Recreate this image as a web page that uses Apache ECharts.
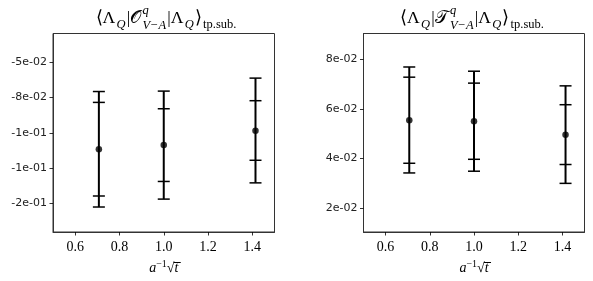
<!DOCTYPE html>
<html>
<head>
<meta charset="utf-8">
<script src="https://cdn.jsdelivr.net/npm/echarts@6/dist/echarts.min.js"></script>
<style>html,body{margin:0;padding:0;background:#fff;}#c{width:593px;height:281px;}</style>
</head>
<body>
<div id="c"></div>
<script>
// ---- data ----
const xs = [0.7071, 1.0, 1.4142];
const xTicks = [0.6, 0.8, 1.0, 1.2, 1.4];
const xTickLabels = ['0.6', '0.8', '1.0', '1.2', '1.4'];

const leftMean    = [-0.1117, -0.1087, -0.0986];
const leftInnerLo = [-0.1448, -0.1345, -0.1195];
const leftInnerHi = [-0.0785, -0.0830, -0.0773];
const leftOuterLo = [-0.1526, -0.1470, -0.1355];
const leftOuterHi = [-0.0708, -0.0705, -0.0613];
const leftTicks = [-0.05, -0.075, -0.1, -0.125, -0.15];
const leftTickLabels = ['-5e-02', '-8e-02', '-1e-01', '-1e-01', '-2e-01'];

const rightMean    = [0.0554, 0.0550, 0.0496];
const rightInnerLo = [0.0381, 0.0397, 0.0376];
const rightInnerHi = [0.0728, 0.0704, 0.0617];
const rightOuterLo = [0.0342, 0.0349, 0.0300];
const rightOuterHi = [0.0769, 0.0752, 0.0693];
const rightTicks = [0.08, 0.06, 0.04, 0.02];
const rightTickLabels = ['8e-02', '6e-02', '4e-02', '2e-02'];

// title pieces (text only)
const leftOp = '\uD835\uDCAA';   // script O
const rightOp = '\uD835\uDCAF';  // script T

// ---- build ----
const chart = echarts.init(document.getElementById('c'), null, {renderer: 'canvas'});
const SERIF = 'Liberation Serif';
const SANS = 'DejaVu Sans';

function errData(lo, hi, ilo, ihi) {
  return xs.map((x, i) => [x, lo[i], hi[i], ilo[i], ihi[i]]);
}
function meanData(m) { return xs.map((x, i) => [x, m[i]]); }

function errRender(params, api) {
  const x = api.value(0);
  const oLo = api.coord([x, api.value(1)]), oHi = api.coord([x, api.value(2)]);
  const iLo = api.coord([x, api.value(3)]), iHi = api.coord([x, api.value(4)]);
  const w = 6;
  const cap = p => ({type: 'line', shape: {x1: p[0] - w, y1: p[1], x2: p[0] + w, y2: p[1]},
                     style: {stroke: '#000', lineWidth: 1.5}});
  return {type: 'group', children: [
    {type: 'line', shape: {x1: oLo[0], y1: oLo[1], x2: oHi[0], y2: oHi[1]}, style: {stroke: '#000', lineWidth: 2}},
    cap(oLo), cap(oHi), cap(iLo), cap(iHi)
  ]};
}

function labelFor(ticks, labels) {
  return v => { const i = ticks.findIndex(t => Math.abs(t - v) < 1e-9); return i >= 0 ? labels[i] : ''; };
}

// math-like title built from text pieces
const ctx = document.createElement('canvas').getContext('2d');
function fontStr(fs, it) { return (it ? 'italic ' : '') + fs + 'px "' + SERIF + '"'; }
function measure(t, fs, it) { ctx.font = fontStr(fs, it); return ctx.measureText(t).width; }
function mathTitle(op, cx, baseY) {
  const B = 17.5, S = 12.5, GAP = 1.2;
  const segs = [
    [{t: '\u27E8\u039B', fs: B}],
    [{t: 'Q', fs: S, it: true, dy: 4}],
    [{t: '|' + op, fs: B}],
    [{t: 'q', fs: S, it: true, dy: -10}, {t: 'V\u2212A', fs: S, it: true, dy: 4.5}],
    [{t: '|\u039B', fs: B}],
    [{t: 'Q', fs: S, it: true, dy: 4}],
    [{t: '\u27E9', fs: B}],
    [{t: 'tp.sub.', fs: S, dy: 4}]
  ];
  const widths = segs.map(g => Math.max.apply(null, g.map(s => measure(s.t, s.fs, s.it))) + GAP);
  const total = widths.reduce((a, b) => a + b, 0) - GAP;
  let x = cx - total / 2;
  const els = [];
  segs.forEach((g, k) => {
    g.forEach(s => {
      els.push({type: 'text', x: x, y: baseY + (s.dy || 0), silent: true,
        style: {text: s.t, fontFamily: SERIF, fontSize: s.fs, fontStyle: s.it ? 'italic' : 'normal',
                fontWeight: 'normal', fill: '#000', align: 'left', verticalAlign: 'bottom'}});
    });
    x += widths[k];
  });
  return els;
}

function xAxisCfg(gi) {
  return {
    type: 'value', gridIndex: gi, min: 0.5, max: 1.5,
    name: '{i|a}{sup|\u22121}{n|\u221A}{i|t\u0305}',
    nameLocation: 'middle', nameGap: 24,
    nameTextStyle: {rich: {
      i: {fontFamily: SERIF, fontSize: 14, fontStyle: 'italic', lineHeight: 18, color: '#000'},
      n: {fontFamily: SERIF, fontSize: 14, lineHeight: 18, color: '#000'},
      sup: {fontFamily: SERIF, fontSize: 10, lineHeight: 10, verticalAlign: 'top', color: '#000'}
    }},
    axisLine: {show: true, onZero: false, lineStyle: {color: '#333', width: 1}},
    axisTick: {show: true, length: 3.5, customValues: xTicks, lineStyle: {color: '#000', width: 0.8}},
    axisLabel: {customValues: xTicks, formatter: labelFor(xTicks, xTickLabels),
                fontFamily: SERIF, fontSize: 14, color: '#000', margin: 8},
    splitLine: {show: false}
  };
}
function yAxisCfg(gi, min, max, ticks, labels) {
  return {
    type: 'value', gridIndex: gi, min: min, max: max,
    axisLine: {show: true, onZero: false, lineStyle: {color: '#333', width: 1}},
    axisTick: {show: true, length: 3.5, customValues: ticks, lineStyle: {color: '#000', width: 0.8}},
    axisLabel: {customValues: ticks, formatter: labelFor(ticks, labels),
                fontFamily: SANS, fontSize: 11, color: '#222', margin: 6},
    splitLine: {show: false}
  };
}

const option = {
  animation: false,
  backgroundColor: '#fff',
  graphic: mathTitle(leftOp, 166, 27.5).concat(mathTitle(rightOp, 472, 27.5)),
  grid: [
    {left: 53, top: 33.5, width: 221.5, height: 198.5, show: true, borderColor: '#333', borderWidth: 1, backgroundColor: 'transparent'},
    {left: 363.5, top: 33.5, width: 221, height: 198.5, show: true, borderColor: '#333', borderWidth: 1, backgroundColor: 'transparent'}
  ],
  xAxis: [xAxisCfg(0), xAxisCfg(1)],
  yAxis: [
    yAxisCfg(0, -0.1703, -0.0297, leftTicks, leftTickLabels),
    yAxisCfg(1, 0.0104, 0.0904, rightTicks, rightTickLabels)
  ],
  series: [
    {type: 'custom', xAxisIndex: 0, yAxisIndex: 0, renderItem: errRender,
     data: errData(leftOuterLo, leftOuterHi, leftInnerLo, leftInnerHi), encode: {x: 0, y: [1, 2, 3, 4]}},
    {type: 'scatter', xAxisIndex: 0, yAxisIndex: 0, symbol: 'circle', symbolSize: 6.5,
     itemStyle: {color: '#000'}, data: meanData(leftMean), z: 5},
    {type: 'custom', xAxisIndex: 1, yAxisIndex: 1, renderItem: errRender,
     data: errData(rightOuterLo, rightOuterHi, rightInnerLo, rightInnerHi), encode: {x: 0, y: [1, 2, 3, 4]}},
    {type: 'scatter', xAxisIndex: 1, yAxisIndex: 1, symbol: 'circle', symbolSize: 6.5,
     itemStyle: {color: '#000'}, data: meanData(rightMean), z: 5}
  ]
};
chart.setOption(option);
</script>
</body>
</html>
